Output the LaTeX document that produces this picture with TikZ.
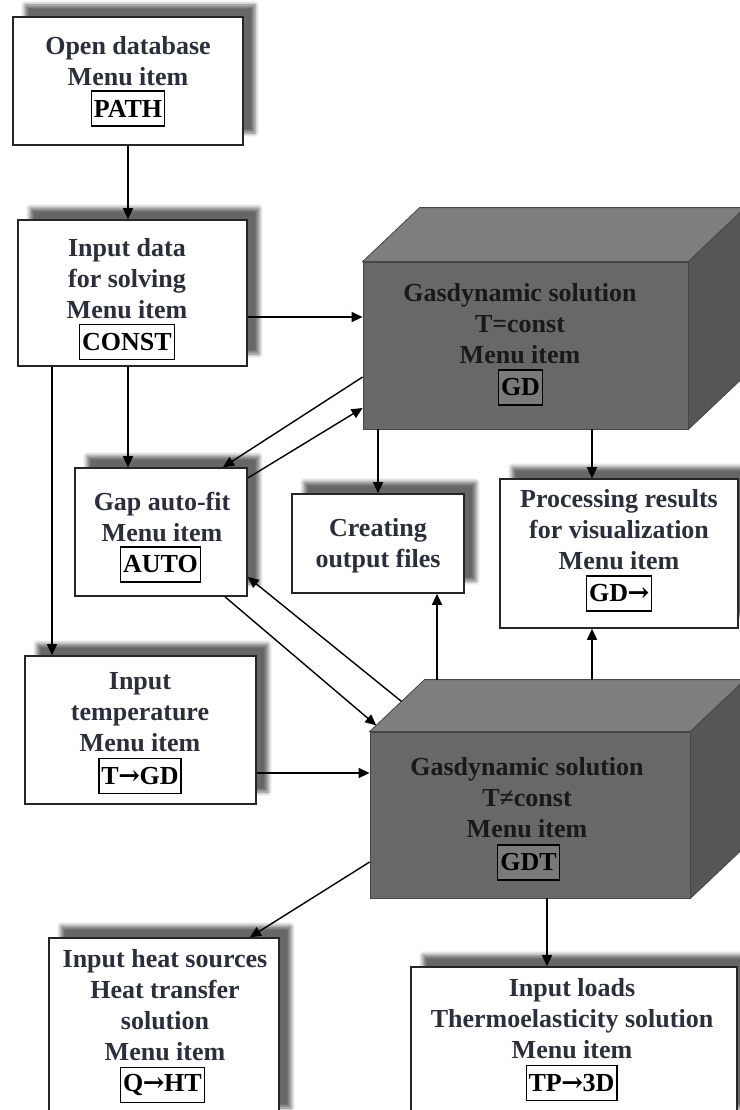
\documentclass[tikz,border=0pt]{standalone}
\usepackage{fontspec}
\setmainfont{Liberation Serif}
\newfontfamily\arrowglyphs{DejaVu Serif}
\newcommand{\rarr}{{\arrowglyphs\bfseries\kern-0.5pt→\kern-0.5pt}}
\usetikzlibrary{arrows.meta,shadows.blur,calc}

\definecolor{txt}{RGB}{45,45,60}
\definecolor{frontgray}{RGB}{104,104,104}
\definecolor{topgray}{RGB}{126,126,126}
\definecolor{sidegray}{RGB}{86,86,86}
\definecolor{edgegray}{RGB}{70,70,70}
\definecolor{codegray}{RGB}{122,122,122}

\tikzset{
  panel/.style={draw=black!85, line width=1.6pt, fill=white,
    blur shadow={shadow xshift=12pt, shadow yshift=12pt,
      shadow blur radius=4pt, shadow opacity=60},
    inner sep=0pt},
  title/.style={font=\fontsize{26}{31}\selectfont\bfseries, text=txt,
    align=center, inner sep=0pt},
  code/.style={draw=black, line width=1.2pt, inner xsep=2.5pt, inner ysep=0pt,
    minimum height=35pt, font=\fontsize{26}{31}\selectfont\bfseries, text=black},
  solid3d/.style={fill=frontgray, draw=edgegray, line width=0.8pt, inner sep=0pt},
  arr/.style={draw=black, line width=1.4pt,
    -{Triangle[length=11pt,width=10pt]}},
}

\begin{document}
\begin{tikzpicture}[x=1pt,y=-1pt]
\useasboundingbox (0,0) rectangle (739,1110);

% ---------- plain boxes ----------
\node[panel, minimum width=230pt, minimum height=128pt] (open)   at (128,81)     {};
\node[panel, minimum width=229pt, minimum height=146pt] (input)  at (132.5,293)  {};
\node[panel, minimum width=172pt, minimum height=128pt] (gap)    at (161,532)    {};
\node[panel, minimum width=172pt, minimum height=99pt]  (create) at (378,543.5)  {};
\node[panel, minimum width=238pt, minimum height=149pt] (proc)   at (619,553.5)  {};
\node[panel, minimum width=231pt, minimum height=148pt] (temp)   at (140.5,730)  {};
\node[panel, minimum width=230pt, minimum height=182pt] (heat)   at (164,1029)   {};
\node[panel, minimum width=326pt, minimum height=153pt] (loads)  at (574,1043.5) {};

% ---------- solid blocks ----------
\node[solid3d, minimum width=325pt, minimum height=167pt] (gd)  at (525.5,345.5) {};
\coordinate (gdbl) at ($(gd.north west)+(57,-54)$);
\coordinate (gdbr) at ($(gd.north east)+(57,-54)$);
\coordinate (gdbb) at ($(gd.south east)+(57,-54)$);
\filldraw[fill=topgray, draw=edgegray, line width=0.8pt]
  (gd.north west) -- (gdbl) -- (gdbr) -- (gd.north east) -- cycle;
\filldraw[fill=sidegray, draw=edgegray, line width=0.8pt]
  (gd.north east) -- (gdbr) -- (gdbb) -- (gd.south east) -- cycle;

\node[solid3d, minimum width=320pt, minimum height=166pt] (gdt) at (530,815) {};
\coordinate (gdtbl) at ($(gdt.north west)+(55,-52)$);
\coordinate (gdtbr) at ($(gdt.north east)+(55,-52)$);
\coordinate (gdtbb) at ($(gdt.south east)+(55,-52)$);
\filldraw[fill=topgray, draw=edgegray, line width=0.8pt]
  (gdt.north west) -- (gdtbl) -- (gdtbr) -- (gdt.north east) -- cycle;
\filldraw[fill=sidegray, draw=edgegray, line width=0.8pt]
  (gdt.north east) -- (gdtbr) -- (gdtbb) -- (gdt.south east) -- cycle;

% ---------- texts ----------
\node[title] (openT)   at (128,61)     {Open database\\Menu item};
\node[code]  (openC)   at (128,108.5)  {PATH};
\node[title] (inputT)  at (127,278.5)  {Input data\\for solving\\Menu item};
\node[code]  (inputC)  at (127,342)    {CONST};
\node[title] (gapT)    at (162,517)    {Gap auto-fit\\Menu item};
\node[code]  (gapC)    at (160.5,564.5){AUTO};
\node[title] (createT) at (378,546)    {Creating\\output files};
\node[title] (procT)   at (619,529.5)  {Processing results\\for visualization\\Menu item};
\node[code]  (procC)   at (619,593.5)  {GD\rarr};
\node[title] (tempT)   at (140,712)    {Input\\temperature\\Menu item};
\node[code]  (tempC)   at (140,776)    {T\rarr GD};
\node[title] (heatT)   at (165,1005)   {Input heat sources\\Heat transfer\\solution\\Menu item};
\node[code]  (heatC)   at (162.5,1085) {Q\rarr HT};
\node[title] (loadsT)  at (572,1019)   {Input loads\\Thermoelasticity solution\\Menu item};
\node[code]  (loadsC)  at (571.5,1083) {TP\rarr 3D};
\node[title, text=black!90] (gdT)  at (520,324) {Gasdynamic solution\\T=const\\Menu item};
\node[code, fill=codegray]  (gdC)  at (520.5,387.5) {GD};
\node[title, text=black!90] (gdtT) at (527,798) {Gasdynamic solution\\T≠const\\Menu item};
\node[code, fill=codegray]  (gdtC) at (528.5,862.5) {GDT};

% ---------- connector ends ----------
\coordinate (gapin)    at ([xshift=-33pt]gap.north);
\coordinate (tempin)   at ([xshift=-88.5pt]temp.north);
\coordinate (procin)   at ([xshift=-27pt]proc.north);
\coordinate (procout)  at ([xshift=-27pt]proc.south);
\coordinate (createout) at ([xshift=59pt]create.south);
\coordinate (loadin)   at ([xshift=-27pt]loads.north);

% ---------- connectors ----------
\draw[arr] (open.south) -- (open.south |- input.north);
\draw[arr] ([yshift=-24pt]input.east) -- ([yshift=-24pt]input.east -| gd.west);
\draw[arr] (input.south -| gapin) -- (gapin);
\draw[arr] (input.south -| tempin) -- (tempin);
\draw[arr] ([yshift=-31.5pt]gd.west) -- ([xshift=62pt]gap.north);
\draw[arr] ([yshift=54pt]gap.east) -- ([yshift=-62.5pt]gd.west);
\draw[arr] (create.north |- gd.south) -- (create.north);
\draw[arr] (procin |- gd.south) -- (procin);
\draw[arr] ($(gdt.north west)!0.58!(gdtbl)$) -- ([yshift=-45pt]gap.east);
\draw[arr] ([xshift=64pt]gap.south) -- ($(gdt.north west)!0.12!(gdtbl)$);
\draw[arr] ([yshift=-43pt]temp.east) -- ([yshift=-43pt]temp.east -| gdt.west);
\draw[arr] (createout |- gdtbl) -- (createout);
\draw[arr] (procout |- gdtbl) -- (procout);
\draw[arr] ([yshift=-47pt]gdt.west) -- ([xshift=86pt]heat.north);
\draw[arr] (loadin |- gdt.south) -- (loadin);
\end{tikzpicture}
\end{document}
